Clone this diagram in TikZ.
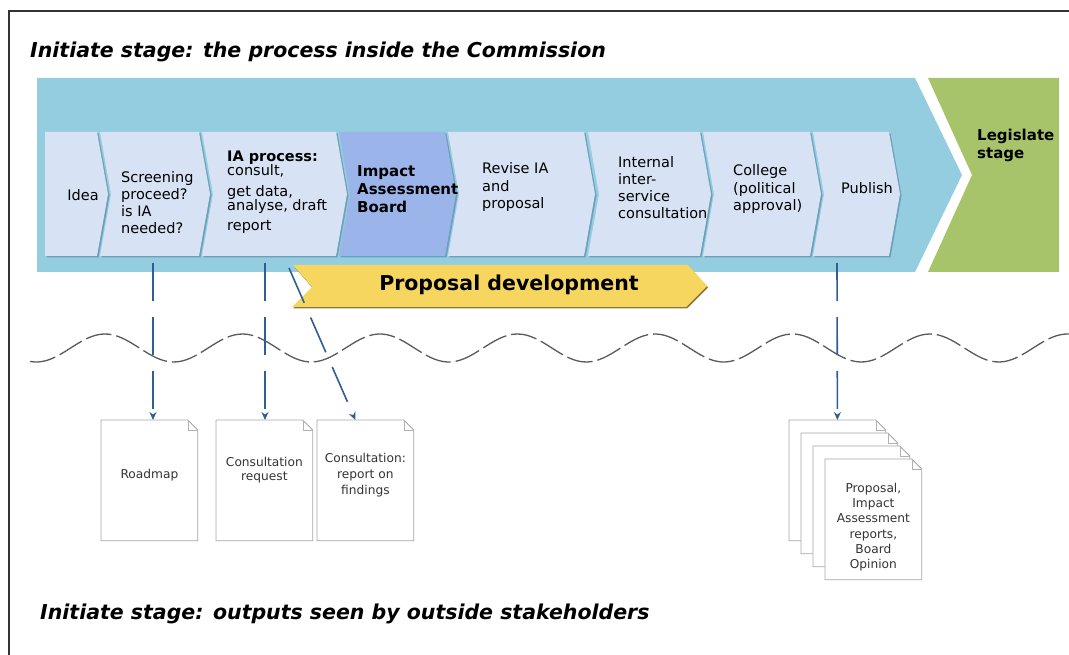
\documentclass[tikz,border=0pt]{standalone}
\usepackage{fontspec}
\setmainfont{DejaVu Sans}
\usetikzlibrary{arrows.meta}

\definecolor{bandblue}{HTML}{93CDDF}
\definecolor{chevfill}{HTML}{D7E3F5}
\definecolor{chevshade}{HTML}{6E9FB8}
\definecolor{iabfill}{HTML}{9BB5EB}
\definecolor{legisgreen}{HTML}{A8C46B}
\definecolor{propyellow}{HTML}{F6D65F}
\definecolor{propshade}{HTML}{8A7A3A}
\definecolor{linkblue}{HTML}{2E5E95}

\begin{document}
\begin{tikzpicture}[x=1pt,y=-1pt,
  steptext/.style={inner sep=0pt, align=left, font=\fontsize{14.5}{17}\selectfont},
  boldtext/.style={inner sep=0pt, align=left, font=\fontsize{15}{18}\selectfont\bfseries},
  title/.style={inner sep=0pt, anchor=west, font=\fontsize{20.5}{24}\selectfont\bfseries\itshape},
  doctext/.style={inner sep=0pt, align=center, text=black!80, font=\fontsize{12.2}{15}\selectfont},
  docpage/.style={draw=black!35, fill=white, line width=0.8pt},
  link/.style={draw=linkblue, line width=1.6pt, dash pattern=on 38pt off 16pt, -{Stealth[length=8pt,width=7pt]}},
  wave/.style={draw=black!65, line width=1.3pt, dash pattern=on 26pt off 5pt}]
\useasboundingbox (0,0) rectangle (1069,655);

% frame and titles
\draw[black!80, line width=1.4pt] (9,655) -- (9,11) -- (1069,11);
\node[title] (top) at (30,52) {Initiate stage: the process inside the Commission};
\node[title] (bottom) at (40,614) {Initiate stage: outputs seen by outside stakeholders};

% stage bands
\fill[bandblue] (37,78) -- (915,78) -- (962,175) -- (915,272) -- (37,272) -- cycle;
\fill[legisgreen] (928,78) -- (1059,78) -- (1059,272) -- (928,272) -- (972,175) -- cycle;
\node[boldtext, anchor=west] (legis) at (977,145) {Legislate\\stage};

% process steps
\foreach \l/\r/\n/\c in {45/97/0/chevfill, 100/199/11/chevfill, 202/336/11/chevfill,
    339/445/11/iabfill, 448/584/11/chevfill, 588/700/11/chevfill,
    703/810/11/chevfill, 813/889/11/chevfill} {
  \fill[chevshade, shift={(1.5,1.5)}] (\l,132) -- (\r,132) -- (\r+11,194) -- (\r,256)
    -- (\l,256) -- (\l+\n,194) -- cycle;
  \fill[\c] (\l,132) -- (\r,132) -- (\r+11,194) -- (\r,256)
    -- (\l,256) -- (\l+\n,194) -- cycle;
}
\node[steptext] (idea) at (83,195) {Idea};
\node[steptext, anchor=west] (screen) at (121,202.5) {Screening\\proceed?\\is IA\\needed?};
\node[steptext, anchor=west] (ia) at (227,192.5) {\textbf{IA process:}\\[-3pt]consult,\\[4pt]get data,\\[-3pt]analyse, draft\\[3pt]report};
\node[boldtext, anchor=west] (iab) at (357,189) {Impact\\Assessment\\Board};
\node[steptext, anchor=west, font=\fontsize{14.5}{17.5}\selectfont] (revise) at (482,187.5) {Revise IA\\and\\proposal};
\node[steptext, anchor=west] (isc) at (618,187.5) {Internal\\inter-\\service\\consultation};
\node[steptext, anchor=west, font=\fontsize{14.5}{17.5}\selectfont] (college) at (733,189.5) {College\\(political\\approval)};
\node[steptext] (publish) at (867,188) {Publish};

% proposal development
\fill[propshade, shift={(1,1.5)}] (293,265) -- (688,265) -- (707,286) -- (686,307) -- (292,307) -- (312,287) -- cycle;
\fill[propyellow] (293,265) -- (688,265) -- (707,286) -- (686,307) -- (292,307) -- (312,287) -- cycle;
\node[inner sep=0pt, font=\fontsize{20.5}{24}\selectfont\bfseries] (dev) at (509,285) {Proposal development};

% boundary
\path[wave] plot[domain=30:1069, samples=240] (\x, {348 - 14*cos(2.61818*(\x-105))});

% outputs
\node[docpage, minimum width=96pt, minimum height=120pt, anchor=north west, draw=none] (roadmap) at (101,420) {};
\node[docpage, minimum width=96pt, minimum height=120pt, anchor=north west, draw=none] (request) at (216,420) {};
\node[docpage, minimum width=96pt, minimum height=120pt, anchor=north west, draw=none] (findings) at (317,420) {};
\node[docpage, minimum width=96pt, minimum height=120pt, anchor=north west, draw=none] (pack1) at (789,420) {};
\node[docpage, minimum width=96pt, minimum height=120pt, anchor=north west, draw=none] (pack2) at (801,433) {};
\node[docpage, minimum width=96pt, minimum height=120pt, anchor=north west, draw=none] (pack3) at (813,446) {};
\node[docpage, minimum width=96pt, minimum height=120pt, anchor=north west, draw=none] (pack4) at (825,459) {};
\foreach \d in {roadmap, request, findings, pack1, pack2, pack3, pack4} {
  \path[docpage] (\d.north west) -- ([xshift=-10pt]\d.north east) -- ([yshift=-10pt]\d.north east)
    -- (\d.south east) -- (\d.south west) -- cycle;
  \draw[black!30, line width=0.6pt] ([xshift=-10pt]\d.north east) -- ([xshift=-10pt,yshift=-10pt]\d.north east)
    -- ([yshift=-10pt]\d.north east);
}
\node[doctext] (t1) at ([yshift=-55pt]roadmap.north) {Roadmap};
\node[doctext] (t2) at ([yshift=-50pt]request.north) {Consultation\\[-1pt]request};
\node[doctext, font=\fontsize{12.2}{16}\selectfont] (t3) at ([yshift=-55pt]findings.north) {Consultation:\\report on\\findings};
\node[doctext, font=\fontsize{12.2}{15.3}\selectfont] (t4) at ([yshift=-68pt]pack4.north) {Proposal,\\Impact\\Assessment\\reports,\\Board\\Opinion};

% links
\coordinate (s1) at (153,263);
\coordinate (s2) at (265,263);
\coordinate (s3) at (289,268);
\coordinate (s4) at (837,263);
\path[link] (s1) -- (s1 |- roadmap.north);
\path[link] (s2) -- (s2 |- request.north);
\path[link] (s3) -- ([xshift=-10pt]findings.north);
\path[link] (s4) -- (pack1.north);
\end{tikzpicture}
\end{document}
